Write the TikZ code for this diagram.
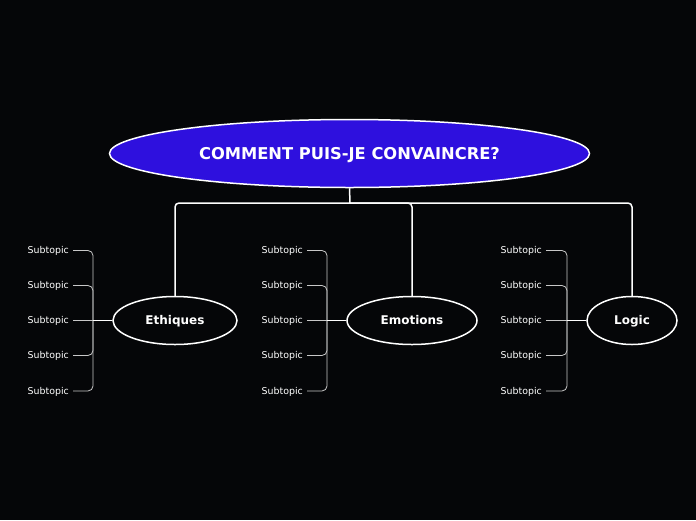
\documentclass[tikz,border=0pt]{standalone}
\usepackage{fontspec}
\setmainfont{DejaVu Sans}
\usetikzlibrary{shapes.geometric}
\definecolor{bgdark}{RGB}{5,6,8}
\definecolor{rootblue}{RGB}{46,16,222}
\definecolor{subgray}{RGB}{200,200,200}
\tikzset{
    topic/.style={ellipse, draw=white, line width=1.5pt, fill=bgdark, text=white,
        font=\bfseries\fontsize{12}{14}\selectfont, inner sep=0pt, minimum height=48pt,
        text height=8.8pt, text depth=0pt},
    root/.style={topic, fill=rootblue, font=\bfseries\fontsize{16.3}{19}\selectfont,
        minimum width=480pt, minimum height=68pt, text height=11.9pt},
    subtopic/.style={text=white, font=\fontsize{9.4}{11}\selectfont, inner sep=4pt, anchor=east,
        text height=6.9pt, text depth=0pt},
    link/.style={draw=white, line width=1.5pt, rounded corners=4pt},
    sublink/.style={draw=subgray, line width=0.8pt, rounded corners=5pt}
}
\begin{document}
\begin{tikzpicture}[x=1pt, y=-1pt]
        \fill[bgdark] (0,0) rectangle (696,520);
        \useasboundingbox (0,0) rectangle (696,520);
        \node (root) [root] at (349.5,153.5) {COMMENT PUIS-JE CONVAINCRE?};
        \node (eth) [topic, minimum width=124pt] at (175,320.5) {Ethiques};
        \node (emo) [topic, minimum width=130pt] at (412,320.5) {Emotions};
        \node (log) [topic, minimum width=90pt] at (632,320.5) {Logic};
        \coordinate (hub) at (350,203);
        \coordinate (j1) at (93,320.5);
        \coordinate (j2) at (327,320.5);
        \coordinate (j3) at (567,320.5);
        % subtopics
        \foreach \t/\x in {1/73,2/307,3/546} {
            \foreach \s/\y in {1/250.5,2/285.5,3/320.5,4/355.5,5/391} {
                \node (s\t\s) [subtopic] at (\x,\y) {Subtopic};
            }
        }
        \draw[link] (root.south) -- (hub);
        \draw[link] (hub) -| (eth.north);
        \draw[link] (hub) -| (emo.north);
        \draw[link] (hub) -| (log.north);
        \foreach \t in {1,2,3} {
            \foreach \s in {1,2,4,5} {
                \draw[sublink] (s\t\s.east) -| (j\t);
            }
            \draw[sublink] (s\t3.east) -- (j\t);
        }
        \draw[link] (j1) -- (eth.west);
        \draw[link] (j2) -- (emo.west);
        \draw[link] (j3) -- (log.west);
\end{tikzpicture}
\end{document}
